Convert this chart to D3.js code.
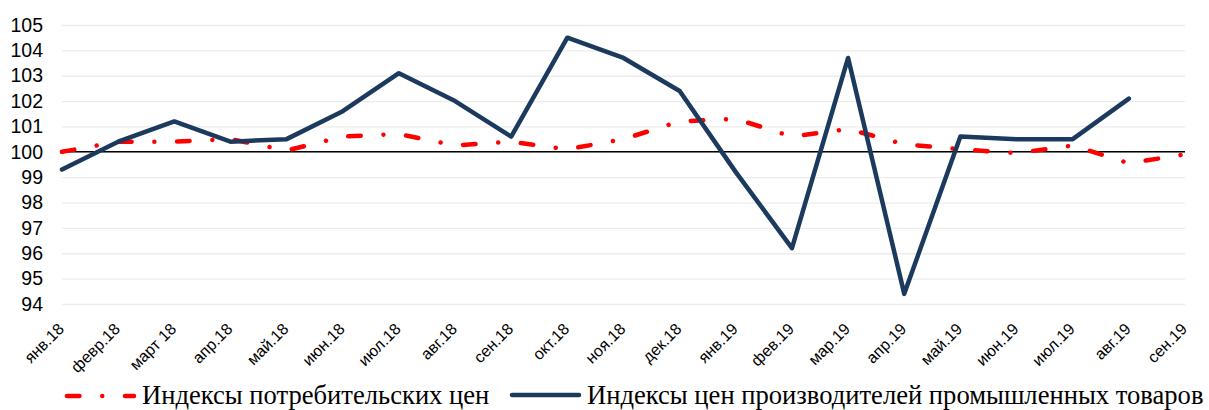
<!DOCTYPE html>
<html><head><meta charset="utf-8">
<script src="https://cdn.jsdelivr.net/npm/d3@7"></script>
<style>
html,body{margin:0;padding:0;background:#fff;}
svg{display:block;}
</style></head>
<body>
<svg id="chart" width="1209" height="410"></svg>
<script>
const categories = ["янв.18","февр.18","март 18","апр.18","май.18","июн.18","июл.18","авг.18","сен.18","окт.18","ноя.18","дек.18","янв.19","фев.19","мар.19","апр.19","май.19","июн.19","июл.19","авг.19","сен.19"];
const cpiValues = [100.0,100.4,100.4,100.5,100.05,100.6,100.7,100.25,100.4,100.1,100.5,101.2,101.3,100.6,100.9,100.3,100.1,99.95,100.25,99.55,99.9];
const ppiValues = [99.3,100.4,101.2,100.4,100.5,101.6,103.1,102.0,100.6,104.5,103.7,102.4,99.2,96.2,103.7,94.4,100.6,100.5,100.5,102.1,null];
const yTicks = [94,95,96,97,98,99,100,101,102,103,104,105];
const seriesNames = ["Индексы потребительских цен","Индексы цен производителей промышленных товаров"];

const svg = d3.select("#chart");
const x = d3.scalePoint().domain(categories).range([62, 1185]).padding(0);
const y = d3.scaleLinear().domain([94, 105]).range([304, 25]);

// gridlines
const yAxis = d3.axisLeft(y).tickValues(yTicks).tickSize(-(1185 - 62)).tickPadding(19).tickFormat(d3.format("d"));
const gy = svg.append("g").attr("transform", "translate(62,0)").call(yAxis);
gy.select(".domain").remove();
gy.selectAll(".tick line").attr("stroke", "#ececec").attr("stroke-width", 1.3);
gy.selectAll(".tick text").attr("font-family", "Liberation Sans, Arial, sans-serif").attr("font-size", 19.5).attr("fill", "#000");

// baseline at 100
svg.append("line").attr("x1", 62).attr("x2", 1185).attr("y1", y(100)).attr("y2", y(100))
  .attr("stroke", "#000").attr("stroke-width", 1.5);

// x axis labels (rotated)
svg.append("g").selectAll("text").data(categories).join("text")
  .attr("transform", d => "translate(" + (x(d) + 3) + ",330) rotate(-45)")
  .attr("text-anchor", "end")
  .attr("font-family", "Liberation Sans, Arial, sans-serif").attr("font-size", 16).attr("fill", "#000")
  .text(d => d);

const dash = "12.5,22.75,0.01,22.75";
const cpiLine = d3.line().x((d, i) => x(categories[i])).y(d => y(d));
svg.append("path").datum(cpiValues).attr("d", cpiLine)
  .attr("fill", "none").attr("stroke", "#ff0000").attr("stroke-width", 4.5)
  .attr("stroke-linecap", "round").attr("stroke-linejoin", "round").attr("stroke-dasharray", dash);

const ppiLine = d3.line().defined(d => d != null).x((d, i) => x(categories[i])).y(d => y(d));
svg.append("path").datum(ppiValues).attr("d", ppiLine)
  .attr("fill", "none").attr("stroke", "#1c3a5e").attr("stroke-width", 4.5)
  .attr("stroke-linecap", "round").attr("stroke-linejoin", "round");

// legend
const lg = svg.append("g");
lg.append("line").attr("x1", 67).attr("x2", 134).attr("y1", 396).attr("y2", 396)
  .attr("stroke", "#ff0000").attr("stroke-width", 4.5).attr("stroke-linecap", "round").attr("stroke-dasharray", dash);
lg.append("text").attr("x", 142).attr("y", 403.5).text(seriesNames[0])
  .attr("font-family", "Liberation Serif, Times New Roman, serif").attr("font-size", 26.6).attr("fill", "#000");
lg.append("line").attr("x1", 512).attr("x2", 579).attr("y1", 395).attr("y2", 395)
  .attr("stroke", "#1c3a5e").attr("stroke-width", 4.5).attr("stroke-linecap", "round");
lg.append("text").attr("x", 587).attr("y", 403.5).text(seriesNames[1])
  .attr("font-family", "Liberation Serif, Times New Roman, serif").attr("font-size", 26.6).attr("fill", "#000");
</script>
</body></html>
